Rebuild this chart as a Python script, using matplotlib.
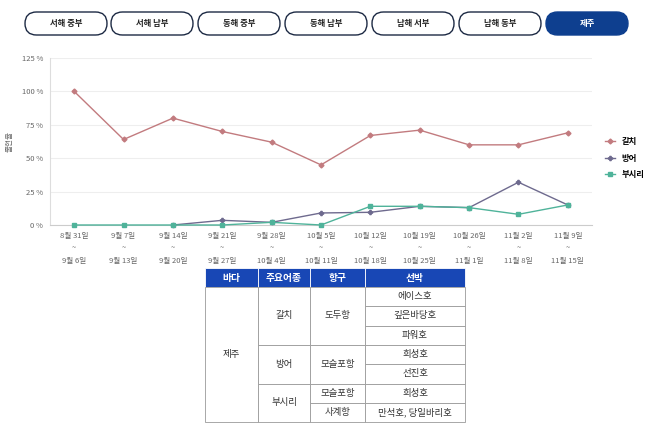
import matplotlib
matplotlib.use('Agg')
import matplotlib.pyplot as plt
from matplotlib.patches import FancyBboxPatch, Rectangle

plt.rcParams['font.family'] = ['Noto Sans CJK KR', 'DejaVu Sans']

# 데이터
tabs = ['서해 중부', '서해 남부', '동해 중부', '동해 남부', '남해 서부', '남해 동부', '제주']
weeks = ['8월 31일\n~\n9월 6일', '9월 7일\n~\n9월 13일', '9월 14일\n~\n9월 20일',
         '9월 21일\n~\n9월 27일', '9월 28일\n~\n10월 4일', '10월 5일\n~\n10월 11일',
         '10월 12일\n~\n10월 18일', '10월 19일\n~\n10월 25일', '10월 26일\n~\n11월 1일',
         '11월 2일\n~\n11월 8일', '11월 9일\n~\n11월 15일']
galchi = [100, 64, 80, 70, 62, 45, 67, 71, 60, 60, 69]
bangeo_x = [2, 3, 4, 5, 6, 7, 8, 9, 10]
bangeo = [0, 3.5, 2, 9, 9.5, 14, 13, 32, 15]
busiri = [0, 0, 0, 0, 2, 0, 14, 14, 13, 8, 15]
yticks = [0, 25, 50, 75, 100, 125]

tbl_header = ['바다', '주요어종', '항구', '선박']
sea = '제주'
fish = ['갈치', '방어', '부시리']
fish_rows = [3, 2, 2]
ports = ['도두항', '모슬포항', '모슬포항', '사계항']
port_rows = [3, 2, 1, 1]
ships = ['에이스호', '깊은바당호', '파워호', '희성호', '선진호', '희성호', '만석호, 당일바리호']

W, H = 658, 429
fig = plt.figure(figsize=(W / 100, H / 100), dpi=100)

# 배경용 축 (픽셀 좌표)
bg = fig.add_axes([0, 0, 1, 1])
bg.set_xlim(0, W)
bg.set_ylim(H, 0)
bg.axis('off')

navy = '#0e3f8f'
tab_x = [25, 111, 198, 285, 372, 459, 546]
for i, t in enumerate(tabs):
    x0 = tab_x[i]
    active = (i == len(tabs) - 1)
    p = FancyBboxPatch((x0, 12), 82, 23, boxstyle='round,pad=0,rounding_size=11.5',
                       fc=navy if active else 'white',
                       ec=navy if active else '#1d2a44', lw=1.0)
    bg.add_patch(p)
    bg.text(x0 + 41, 23.5, t, ha='center', va='center', fontsize=6,
            color='white' if active else '#222222', fontweight='bold')

# 표
hdr_col = '#1847b5'
col_x = [205, 258, 310, 365, 465]
top, hh, rh = 268, 19, 19.3
for j, h in enumerate(tbl_header):
    bg.add_patch(Rectangle((col_x[j], top), col_x[j + 1] - col_x[j], hh, fc=hdr_col, ec='white', lw=0.6))
    bg.text((col_x[j] + col_x[j + 1]) / 2, top + hh / 2, h, ha='center', va='center',
            color='white', fontsize=7, fontweight='bold')
y0 = top + hh
n = len(ships)
lc = '#9a9a9a'


def cell(c, r0, nr, txt):
    bg.add_patch(Rectangle((col_x[c], y0 + r0 * rh), col_x[c + 1] - col_x[c], nr * rh,
                           fc='white', ec=lc, lw=0.6))
    bg.text((col_x[c] + col_x[c + 1]) / 2, y0 + (r0 + nr / 2) * rh, txt,
            ha='center', va='center', fontsize=6.8, color='#333333')


cell(0, 0, n, sea)
r = 0
for f, k in zip(fish, fish_rows):
    cell(1, r, k, f)
    r += k
r = 0
for p_, k in zip(ports, port_rows):
    cell(2, r, k, p_)
    r += k
for i, s in enumerate(ships):
    cell(3, i, 1, s)

# 선 그래프
ax = fig.add_axes([50 / W, 1 - 225 / H, 542 / W, (225 - 58) / H])
xs = list(range(len(weeks)))
ax.plot(xs, galchi, color='#c27b7f', lw=1, marker='D', ms=2.5, label='갈치', clip_on=False, zorder=3)
ax.plot(bangeo_x, bangeo, color='#6e6a8e', lw=1, marker='P', ms=3, label='방어', clip_on=False, zorder=3)
ax.plot(xs, busiri, color='#4fb39a', lw=1, marker='s', ms=3, label='부시리', clip_on=False, zorder=4)

ax.set_xlim(-0.49, 10.49)
ax.set_ylim(0, 125)
ax.set_yticks(yticks)
ax.set_yticklabels([f'{v} %' for v in yticks], fontsize=5.5, color='#666666')
ax.set_xticks(xs)
ax.set_xticklabels(weeks, fontsize=5.5, color='#666666', linespacing=1.75)
ax.tick_params(length=0, pad=5)
ax.grid(axis='y', color='#eeeeee', lw=0.8)
ax.set_axisbelow(True)
for s in ['top', 'right']:
    ax.spines[s].set_visible(False)
ax.spines['left'].set_color('#dddddd')
ax.spines['bottom'].set_color('#cccccc')
ax.set_ylabel('출현율', fontsize=5.5, color='#666666')
ax.yaxis.set_label_coords(-0.068, 0.5)

ax.legend(loc='center left', bbox_to_anchor=(1.01, 0.4), frameon=False,
          handlelength=1.2, labelspacing=0.9, prop={'weight': 'bold', 'size': 6})

fig.savefig('out.png', dpi=100)
